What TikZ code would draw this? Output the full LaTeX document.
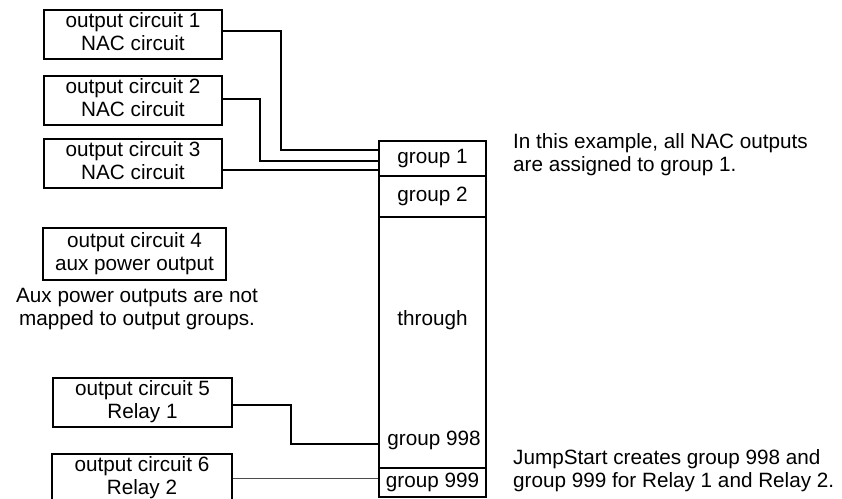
\documentclass[tikz,border=0pt]{standalone}
\usepackage{fontspec}
\setmainfont{Liberation Sans}
\newcommand\twolines[2]{\begin{tabular}{@{}c@{}}#1\\#2\end{tabular}}
\begin{document}
\begin{tikzpicture}[x=1bp,y=-1bp,
  every node/.style={font=\fontsize{20.7bp}{23bp}\selectfont, inner sep=0pt},
  cbox/.style={draw, line width=1.4bp, align=center, minimum width=#1},
  seg/.style={draw, line width=1.4bp, minimum width=107bp},
  note/.style={align=left, anchor=west},
  wire/.style={line width=1.4bp},
  thinwire/.style={line width=0.9bp, black!70}]
\useasboundingbox (0,0) rectangle (842,499);

% output circuit boxes
\node[cbox=178bp, minimum height=49bp] (b1) at (133,34.5) {\twolines{output circuit 1}{NAC circuit}};
\node[cbox=178bp, minimum height=49bp] (b2) at (133,100.5) {\twolines{output circuit 2}{NAC circuit}};
\node[cbox=178bp, minimum height=49bp] (b3) at (133,163.5) {\twolines{output circuit 3}{NAC circuit}};
\node[cbox=183bp, minimum height=52bp] (b4) at (134.5,254) {\twolines{output circuit 4}{aux power output}};
\node[cbox=179bp, minimum height=49bp] (b5) at (142.5,402.5) {\twolines{output circuit 5}{Relay 1}};
\node[cbox=180bp, minimum height=49bp] (b6) at (142,478.5) {\twolines{output circuit 6}{Relay 2}};

% group column
\node[seg, minimum height=35bp] (g1) at (432.5,158.5) {group 1};
\node[seg, minimum height=41bp] (g2) at (432.5,196.5) {group 2};
\node[seg, minimum height=251bp] (thru) at (432.5,342.5) {};
\node (thrutext) at (432.5,320) {through};
\node (g998) at (434,440) {group 998};
\node[seg, minimum height=29bp] (g999) at (432.5,482.5) {group 999};

% notes
\node[align=center] (auxnote) at (137,309) {Aux power outputs are not\\mapped to output groups.};
\node[note] (note1) at (513,154.6) {In this example, all NAC outputs\\are assigned to group 1.};
\node[note] (note2) at (513,471) {JumpStart creates group 998 and\\group 999 for Relay 1 and Relay 2.};

% connectors
\coordinate (k1) at (281,150);
\coordinate (k2) at (260,161);
\coordinate (k5) at (291,444);
\draw[wire] ([yshift=3.5bp]b1.east) -| (k1) -- (k1 -| g1.west);
\draw[wire] ([yshift=1.5bp]b2.east) -| (k2) -- (k2 -| g1.west);
\draw[wire] ([yshift=-6.5bp]b3.east) -- ([yshift=-6.5bp]b3.east -| g1.west);
\draw[wire] ([yshift=-2.5bp]b5.east) -| (k5) -- (k5 -| thru.west);
\draw[thinwire] (b6.east) -- (b6.east -| g999.west);
\end{tikzpicture}
\end{document}
